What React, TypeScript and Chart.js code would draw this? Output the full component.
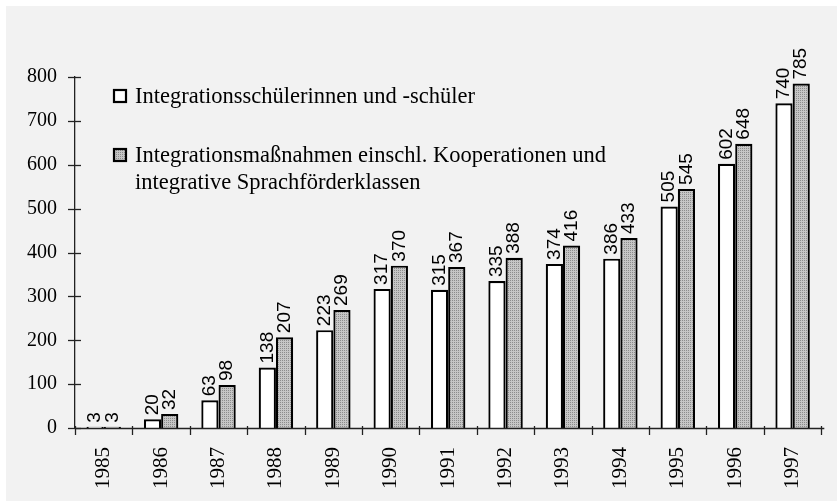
import React, { useEffect, useRef } from "react";
import { Chart, registerables } from "chart.js";

Chart.register(...registerables);

const years = ["1985", "1986", "1987", "1988", "1989", "1990", "1991", "1992", "1993", "1994", "1995", "1996", "1997"];
const schueler = [3, 20, 63, 138, 223, 317, 315, 335, 374, 386, 505, 602, 740];
const massnahmen = [3, 32, 98, 207, 269, 370, 367, 388, 416, 433, 545, 648, 785];
const legendLabels = [
  ["Integrationsschülerinnen und -schüler"],
  ["Integrationsmaßnahmen einschl. Kooperationen und", "integrative Sprachförderklassen"],
];
const yTicks = [0, 100, 200, 300, 400, 500, 600, 700, 800];

const SERIF = "'Liberation Serif', 'Times New Roman', serif";
const SANS = "'Liberation Sans', Arial, sans-serif";

function makePattern(): CanvasPattern | string {
  const c = document.createElement("canvas");
  c.width = 2;
  c.height = 2;
  const g = c.getContext("2d");
  if (!g) return "#b8b8b8";
  g.fillStyle = "#c6c6c6";
  g.fillRect(0, 0, 2, 2);
  g.fillStyle = "#8c8c8c";
  g.fillRect(0, 0, 1, 1);
  const p = g.createPattern(c, "repeat");
  return p || "#b8b8b8";
}

export default function App() {
  const ref = useRef<HTMLCanvasElement | null>(null);

  useEffect(() => {
    document.body.style.margin = "0";
    const canvas = ref.current;
    if (!canvas) return;
    const pattern = makePattern();

    const bgPlugin = {
      id: "bg",
      beforeDraw(chart: any) {
        const ctx = chart.ctx;
        ctx.save();
        ctx.fillStyle = "#ffffff";
        ctx.fillRect(0, 0, chart.width, chart.height);
        ctx.fillStyle = "#f2f2f2";
        ctx.fillRect(6, 6, chart.width - 6, chart.height - 6);
        ctx.restore();
      },
    };

    const decoPlugin = {
      id: "deco",
      afterDraw(chart: any) {
        const ctx = chart.ctx;
        const ys = chart.scales.y;
        const xs = chart.scales.x;
        const area = chart.chartArea;
        ctx.save();
        ctx.strokeStyle = "#222";
        ctx.lineWidth = 1.3;
        yTicks.forEach((v) => {
          const y = Math.round(ys.getPixelForValue(v)) + 0.5;
          ctx.beginPath();
          ctx.moveTo(area.left - 7, y);
          ctx.lineTo(area.left + 6, y);
          ctx.stroke();
        });
        const n = years.length;
        const w = (area.right - area.left) / n;
        for (let i = 0; i <= n; i++) {
          const x = Math.round(xs.getPixelForValue(Math.min(i, n - 1)) + (i === n ? w / 2 : -w / 2)) + 0.5;
          ctx.beginPath();
          ctx.moveTo(x, area.bottom - 2);
          ctx.lineTo(x, area.bottom + 7);
          ctx.stroke();
        }
        ctx.beginPath();
        ctx.moveTo(area.left, area.bottom + 0.5);
        ctx.lineTo(area.right + 3, area.bottom + 0.5);
        ctx.stroke();

        // data labels
        ctx.fillStyle = "#000";
        ctx.font = `19px ${SANS}`;
        ctx.textAlign = "left";
        ctx.textBaseline = "middle";
        chart.data.datasets.forEach((ds: any, di: number) => {
          const meta = chart.getDatasetMeta(di);
          meta.data.forEach((el: any, i: number) => {
            ctx.save();
            ctx.translate(el.x, el.y - 4);
            ctx.rotate(-Math.PI / 2);
            ctx.fillText(String(ds.data[i]), 0, 0);
            ctx.restore();
          });
        });

        // legend
        const bx = area.left + 38;
        const rows = [area.top + 12, area.top + 71];
        ctx.font = `22.5px ${SERIF}`;
        ctx.textBaseline = "middle";
        legendLabels.forEach((lines, li) => {
          const top = rows[li];
          ctx.fillStyle = li === 0 ? "#ffffff" : (pattern as any);
          ctx.fillRect(bx, top, 14, 14);
          ctx.lineWidth = 2.2;
          ctx.strokeStyle = "#000";
          ctx.strokeRect(bx + 1, top + 1, 12, 12);
          ctx.fillStyle = "#000";
          lines.forEach((t, k) => {
            ctx.fillText(t, bx + 22, top + 8 + k * 27);
          });
        });
        ctx.restore();
      },
    };

    const chart = new Chart(canvas, {
      type: "bar",
      data: {
        labels: years,
        datasets: [
          {
            label: legendLabels[0].join(" "),
            data: schueler,
            backgroundColor: "#ffffff",
            borderColor: "#000",
            borderWidth: 2.2,
            categoryPercentage: 0.6,
            barPercentage: 1.0,
          },
          {
            label: legendLabels[1].join(" "),
            data: massnahmen,
            backgroundColor: pattern as any,
            borderColor: "#000",
            borderWidth: 2.2,
            categoryPercentage: 0.6,
            barPercentage: 1.0,
          },
        ],
      },
      options: {
        animation: false,
        responsive: false,
        maintainAspectRatio: false,
        layout: { padding: { top: 77, right: 5, left: 0, bottom: 0 } },
        plugins: { legend: { display: false }, tooltip: { enabled: false } },
        scales: {
          x: {
            grid: { display: false, drawTicks: false },
            border: { display: false },
            ticks: {
              autoSkip: false,
              minRotation: 90,
              maxRotation: 90,
              padding: 19,
              color: "#000",
              font: { family: SERIF, size: 21 },
            },
            afterFit(scale: any) {
              scale.height = 73;
            },
          },
          y: {
            min: 0,
            max: 800,
            grid: { display: false, drawTicks: false },
            border: { display: true, color: "#222", width: 1.3 },
            ticks: {
              stepSize: 100,
              padding: 18,
              color: "#000",
              font: { family: SERIF, size: 20 },
            },
            afterFit(scale: any) {
              scale.width = 75;
            },
          },
        },
      },
      plugins: [bgPlugin, decoPlugin],
    });
    return () => chart.destroy();
  }, []);

  return (
    <div style={{ position: "fixed", left: 0, top: 0, width: 837, height: 501 }}>
      <canvas ref={ref} width={837} height={501} style={{ width: 837, height: 501, display: "block" }} />
    </div>
  );
}
